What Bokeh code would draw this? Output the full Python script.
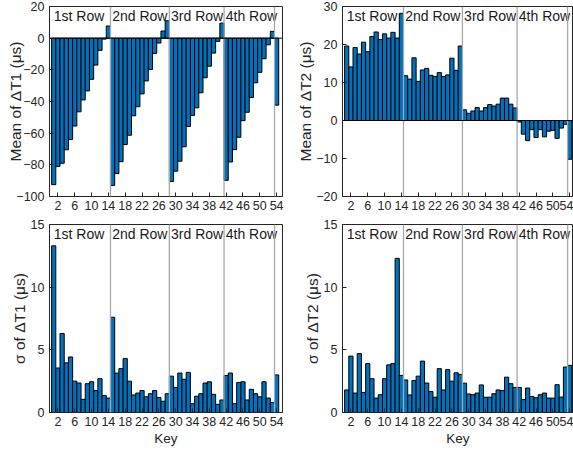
from bokeh.plotting import figure
from bokeh.layouts import column, row
from bokeh.models import Span, Range1d, FixedTicker
from bokeh.embed import file_html
from bokeh.resources import INLINE
from bokeh.core.properties import value

keys = list(range(1, 55))

mean_dt1 = [
    -92.5, -81, -79, -70.5, -64, -55.5, -46.5, -39, -33.3, -26, -17, -7.7, -0.6, 7.7,
    -93, -85.5, -78, -67.2, -61.3, -49, -43.3, -35.2, -27, -19.8, -9.6, -3.1, 4.5, 11,
    -90.5, -84, -77.7, -68.6, -55.8, -48.8, -44, -34.5, -25, -17.7, -9.4, -2, 9.5,
    -89.8, -78.2, -70.4, -62.6, -52.1, -46.8, -37.5, -28.2, -21.6, -13, -4.2, 4.3,
    -42.3,
]
mean_dt2 = [
    19.6, 14.1, 19.2, 17.5, 20.6, 18.1, 22.1, 23.3, 21.3, 22.8, 21.7, 23.2, 21.7, 28.2,
    11.8, 10.9, 16.5, 10.3, 13.3, 13.7, 11.9, 11.6, 12.6, 11.6, 12.0, 16.4, 13.2, 19.6,
    2.8, 1.9, 2.5, 3.4, 2.5, 3.4, 4.2, 3.8, 4.3, 5.9, 5.9, 4.3, 3.3,
    -0.4, -3.6, -5.3, -2.4, -4.5, -2.4, -4.3, -2.8, -2.6, -4.7, -2.0, -1.0,
    -10.2,
]
std_dt1 = [
    13.3, 3.55, 6.3, 3.96, 4.43, 2.5, 2.35, 1.05, 2.3, 2.45, 1.75, 2.7, 1.35, 1.15,
    7.6, 3.14, 3.5, 4.3, 2.5, 1.4, 1.55, 1.75, 1.25, 1.5, 1.75, 1.2, 0.9, 1.5,
    2.9, 2.0, 3.15, 2.65, 3.2, 0.7, 1.3, 1.5, 2.35, 2.45, 1.45, 0.65, 1.0,
    2.95, 3.15, 0.7, 2.4, 2.45, 1.0, 1.85, 1.5, 1.25, 2.45, 1.15, 0.8,
    3.0,
]
std_dt2 = [
    1.8, 4.5, 1.55, 4.7, 1.6, 3.9, 2.7, 1.15, 1.42, 2.7, 3.8, 3.9, 12.3, 2.96,
    2.6, 1.4, 2.55, 2.9, 4.1, 2.35, 1.67, 1.22, 3.5, 1.8, 3.42, 2.5, 3.17, 3.04,
    2.34, 1.48, 1.42, 1.55, 2.2, 1.22, 1.22, 1.5, 1.8, 1.75, 2.82, 2.3, 2.0,
    2.0, 1.03, 1.95, 1.28, 1.18, 1.42, 1.55, 1.15, 1.15, 2.22, 1.23, 3.63,
    3.76,
]

row_labels = ["1st Row", "2nd Row", "3rd Row", "4th Row"]
row_label_x = [1.0, 14.9, 28.9, 41.9]
row_breaks = [14.5, 28.5, 41.5, 53.5]
x_ticks = list(range(2, 55, 4))

FONT = "Liberation Sans"
AX = "#262626"
BAR = "#0072BD"


def panel(vals, ylabel, yr, yticks, width, height, bl, br, bt, bb, xmax,
          xlabel=None, ylab_standoff=0):
    p = figure(width=width, height=height, output_backend="svg",
               toolbar_location=None, x_range=Range1d(0, xmax),
               y_range=Range1d(*yr), min_border_left=bl, min_border_right=br,
               min_border_top=bt, min_border_bottom=bb)
    p.grid.visible = False
    p.outline_line_color = AX
    p.outline_line_width = 1
    p.background_fill_color = "white"
    p.border_fill_color = "white"

    for b in row_breaks:
        p.add_layout(Span(location=b, dimension="height", line_color="#A8A8A8",
                          line_width=1.3))

    p.vbar(x=keys, top=vals, bottom=0, width=1.0, fill_color=BAR,
           line_color="black", line_width=1)

    if yr[0] < 0:
        p.add_layout(Span(location=0, dimension="width", line_color="black",
                          line_width=1))

    frame_h = height - bt - bb
    ytxt = yr[1] - (yr[1] - yr[0]) * 9.5 / frame_h
    p.text(x=row_label_x, y=[ytxt] * 4, text=row_labels,
           text_font=value(FONT), text_font_size="14px",
           text_color="#1a1a1a", text_baseline="middle", text_align="left")

    xa = p.xaxis[0]
    xa.ticker = FixedTicker(ticks=x_ticks)
    ya = p.yaxis[0]
    ya.ticker = FixedTicker(ticks=yticks)
    for a in (xa, ya):
        a.axis_line_color = AX
        a.major_tick_line_color = AX
        a.major_tick_in = 4
        a.major_tick_out = 0
        a.minor_tick_line_color = None
        a.major_label_text_font = FONT
        a.major_label_text_font_size = "12.5px"
        a.major_label_text_color = AX
        a.axis_label_text_font = FONT
        a.axis_label_text_font_style = "normal"
        a.axis_label_text_color = AX
    xa.axis_label_text_font_size = "13.5px"
    ya.axis_label_text_font_size = "15.5px"
    xa.major_label_standoff = 4
    ya.major_label_standoff = 5
    ya.axis_label = ylabel
    ya.axis_label_standoff = ylab_standoff
    if xlabel:
        xa.axis_label = xlabel
        xa.axis_label_standoff = 2
    return p


p1 = panel(mean_dt1, "Mean of ΔT1 (μs)", (-100, 20), [-100, -80, -60, -40, -20, 0, 20],
           290, 218, 49, 8, 6, 22, 55.4, ylab_standoff=-11)
p2 = panel(mean_dt2, "Mean of ΔT2 (μs)", (-20, 30), [-20, -10, 0, 10, 20, 30],
           283, 218, 52, 0, 6, 22, 54.9, ylab_standoff=-1)
p3 = panel(std_dt1, "σ of ΔT1 (μs)", (0, 15), [0, 5, 10, 15],
           290, 234, 49, 8, 6, 40, 55.4, xlabel="Key", ylab_standoff=0)
p4 = panel(std_dt2, "σ of ΔT2 (μs)", (0, 15), [0, 5, 10, 15],
           283, 234, 52, 0, 6, 40, 54.9, xlabel="Key", ylab_standoff=0)

layout = column(row(p1, p2, spacing=0), row(p3, p4, spacing=0), spacing=0)

open("out.html", "w").write(file_html(layout, INLINE))
